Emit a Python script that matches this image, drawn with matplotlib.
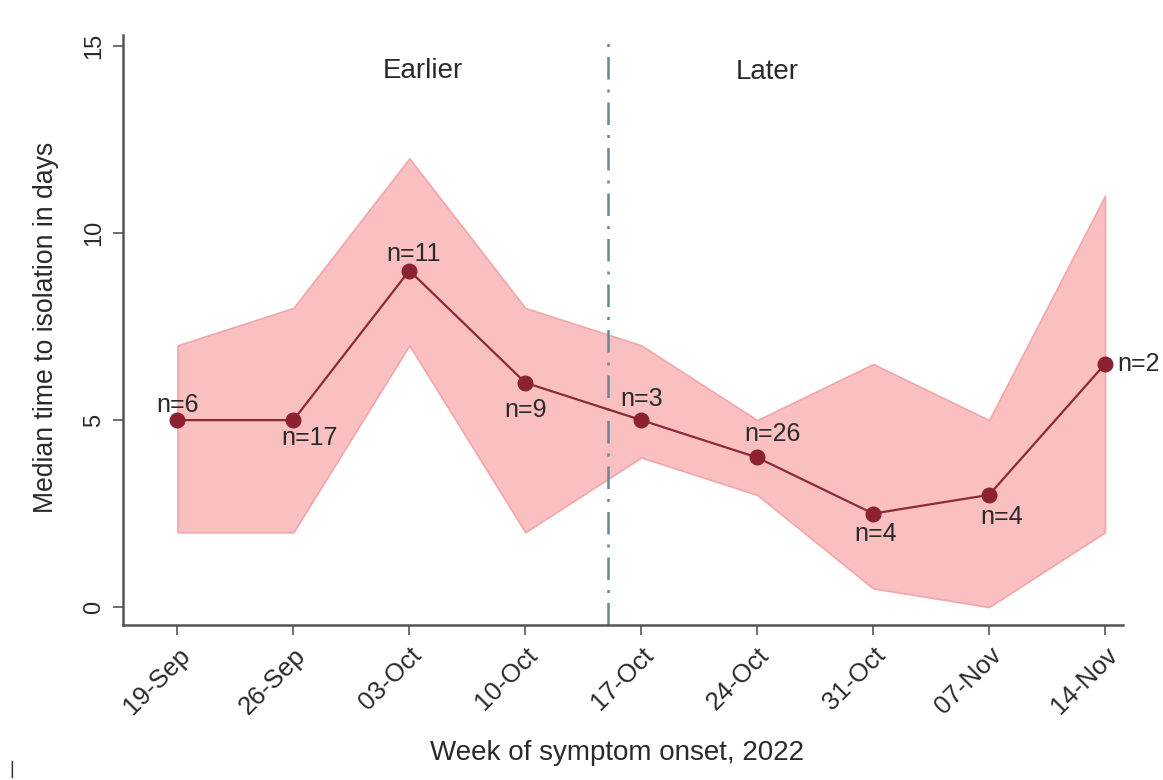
import matplotlib
matplotlib.use("Agg")
import matplotlib.pyplot as plt
import numpy as np

weeks = ["19-Sep", "26-Sep", "03-Oct", "10-Oct", "17-Oct", "24-Oct", "31-Oct", "07-Nov", "14-Nov"]
median = [5, 5, 9, 6, 5, 4, 2.5, 3, 6.5]
lower = [2, 2, 7, 2, 4, 3, 0.5, 0, 2]
upper = [7, 8, 12, 8, 7, 5, 6.5, 5, 11]
counts = [6, 17, 11, 9, 3, 26, 4, 4, 2]
# label offsets in pixels (dx, dy) relative to point
offsets = [(0, 15), (16, -18), (4, 17), (0, -27), (0, 21), (15, 23), (2, -20), (13, -22), (12, 0)]
divider_week = 3 + 5 / 7  # 15-Oct

plt.rcParams['font.family'] = ['Liberation Sans', 'DejaVu Sans']

fig = plt.figure(figsize=(11.63, 7.8), dpi=100)
W, H = 1163, 780
ax = fig.add_axes([123 / W, 1 - 625 / H, (1123 - 123) / W, (625 - 35) / H])

x = np.arange(len(weeks))
ax.fill_between(x, lower, upper, facecolor='#F9BFC1', edgecolor='#F3A6AA', linewidth=1.2, zorder=1)
ax.plot(x, median, color='#8C2A36', linewidth=1.6, marker='o', markersize=10.5,
        markerfacecolor='#8C2131', markeredgecolor='#8C2131', zorder=3)

ax.axvline(divider_week, color='#6A8593', linewidth=1.8, linestyle=(0, (9, 4, 1.2, 4)), zorder=2)

for xi, yi, n, (dx, dy) in zip(x, median, counts, offsets):
    ha = 'left' if dy == 0 else 'center'
    ax.annotate(f"n={n}", (xi, yi), xytext=(dx, dy), textcoords='offset pixels',
                ha=ha, va='center', fontsize=18, color='#2a2a2a', zorder=4)

ax.text(2.12, 14.35, "Earlier", ha='center', va='center', fontsize=20, color='#2a2a2a')
ax.text(5.09, 14.3, "Later", ha='center', va='center', fontsize=20, color='#2a2a2a')

ax.set_xlim(-0.47, 8.155)
ax.set_ylim(-0.48, 15.3)
ax.set_yticks([0, 5, 10, 15])
ax.set_yticklabels(["0", "5", "10", "15"], rotation=90, va='center', fontsize=17, color='#2a2a2a')
ax.set_xticks(x)
ax.set_xticklabels(weeks, rotation=45, ha='right', rotation_mode='anchor', fontsize=18.5, color='#2a2a2a')
ax.tick_params(axis='both', length=7, width=1.2, color='#555555', pad=6)

for s in ['top', 'right']:
    ax.spines[s].set_visible(False)
for s in ['left', 'bottom']:
    ax.spines[s].set_color('#555555')
    ax.spines[s].set_linewidth(1.8)

fig.text(46 / W, 1 - 327 / H, "Median time to isolation in days", rotation=90,
         ha='center', va='center', fontsize=19.2, color='#2a2a2a')
fig.text(617 / W, 1 - 753 / H, "Week of symptom onset, 2022", ha='center', va='center',
         fontsize=20, color='#2a2a2a')
fig.text(12 / W, 1 - 770 / H, "|", ha='center', va='center', fontsize=13, color='#333333')

fig.savefig("out.png", dpi=100)
